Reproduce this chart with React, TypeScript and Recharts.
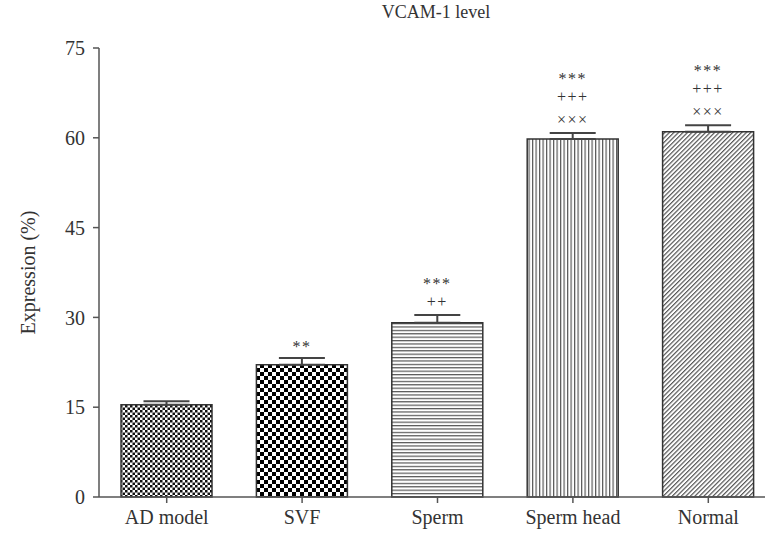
import { BarChart, Bar, XAxis, YAxis, Cell, ErrorBar, LabelList } from 'recharts';

const categories = ['AD model', 'SVF', 'Sperm', 'Sperm head', 'Normal'];
const expression = [15.4, 22.1, 29.1, 59.8, 61.0];
const sem = [0.6, 1.1, 1.3, 1.0, 1.1];
const starMarks = ['', '**', '***', '***', '***'];
const plusMarks = ['', '', '++', '+++', '+++'];
const crossMarks = ['', '', '', '×××', '×××'];
const yTicks = [0, 15, 30, 45, 60, 75];

const FONT = '"Liberation Serif", "DejaVu Serif", serif';
const INK = '#333';

const data = categories.map((name, i) => ({
  name,
  value: expression[i],
  err: [0, sem[i]],
  cap: sem[i],
}));

// significance marks stacked above the error bar cap
function Marks(props: any) {
  const { x, y, width, index } = props;
  const cx = x + width / 2;
  const out: { t: string; dy: number }[] = [];
  let off = -14;
  if (crossMarks[index]) { out.push({ t: crossMarks[index], dy: off }); off -= 23; }
  if (plusMarks[index]) { out.push({ t: plusMarks[index], dy: off }); off -= 18; }
  if (starMarks[index]) { out.push({ t: starMarks[index], dy: off + (plusMarks[index] ? 0 : 2) }); }
  return (
    <g>
      {out.map((m, k) => (
        <text key={k} x={cx} y={y + m.dy} textAnchor="middle" dominantBaseline="central"
          fontFamily={FONT} fontSize={16} letterSpacing={1.5} fill={INK}>{m.t}</text>
      ))}
    </g>
  );
}

function YLabel(props: any) {
  const vb = props.viewBox;
  const x = vb.x + 28;
  const y = vb.y + vb.height / 2;
  return (
    <text x={x} y={y} transform={`rotate(-90 ${x} ${y})`} textAnchor="middle" dominantBaseline="central"
      fontFamily={FONT} fontSize={20} fill={INK}>Expression (%)</text>
  );
}

export default function App() {
  const tick = { fill: INK, fontSize: 20, fontFamily: FONT };
  return (
    <div style={{ position: 'absolute', left: 0, top: 0, width: 765, height: 541, overflow: 'hidden', background: '#fff', fontFamily: FONT }}>
      <div style={{ position: 'absolute', left: 0, top: 2, width: 872, textAlign: 'center', fontSize: 18, color: INK }}>
        VCAM-1 level
      </div>
      <BarChart width={777} height={541} data={data} margin={{ top: 48, right: 1, bottom: 0, left: 0 }} barSize={91}>
        <defs>
          <pattern id="p0" width="5" height="5" patternUnits="userSpaceOnUse">
            <rect width="5" height="5" fill="#fff" />
            <rect width="2.5" height="2.5" fill="#111" />
            <rect x="2.5" y="2.5" width="2.5" height="2.5" fill="#111" />
          </pattern>
          <pattern id="p1" width="8" height="8" patternUnits="userSpaceOnUse">
            <rect width="8" height="8" fill="#fff" />
            <rect width="4" height="4" fill="#000" />
            <rect x="4" y="4" width="4" height="4" fill="#000" />
          </pattern>
          <pattern id="p2" width="8" height="3.4" patternUnits="userSpaceOnUse">
            <rect width="8" height="3.4" fill="#fff" />
            <rect width="8" height="1.2" fill="#555" />
          </pattern>
          <pattern id="p3" width="3.5" height="8" patternUnits="userSpaceOnUse">
            <rect width="3.5" height="8" fill="#fff" />
            <rect width="1.2" height="8" fill="#555" />
          </pattern>
          <pattern id="p4" width="3.2" height="8" patternUnits="userSpaceOnUse" patternTransform="rotate(45)">
            <rect width="3.2" height="8" fill="#fff" />
            <rect width="1.2" height="8" fill="#555" />
          </pattern>
        </defs>
        <XAxis dataKey="name" height={44} tick={tick} tickSize={6} tickMargin={7}
          axisLine={{ stroke: '#555', strokeWidth: 1.5 }} tickLine={{ stroke: '#555', strokeWidth: 1.5 }} />
        <YAxis domain={[0, 75]} ticks={yTicks} width={99} tick={tick} tickSize={6} tickMargin={8}
          axisLine={{ stroke: '#555', strokeWidth: 1.5 }} tickLine={{ stroke: '#555', strokeWidth: 1.5 }}
          label={{ content: YLabel }} />
        <Bar dataKey="value" stackId="s" isAnimationActive={false}>
          {data.map((_, i) => (
            <Cell key={i} fill={`url(#p${i})`} stroke={INK} strokeWidth={1.5} />
          ))}
          <ErrorBar dataKey="err" direction="y" width={23} stroke="#444" strokeWidth={2} />
        </Bar>
        <Bar dataKey="cap" stackId="s" fill="none" isAnimationActive={false}>
          <LabelList dataKey="cap" content={Marks} />
        </Bar>
      </BarChart>
    </div>
  );
}
